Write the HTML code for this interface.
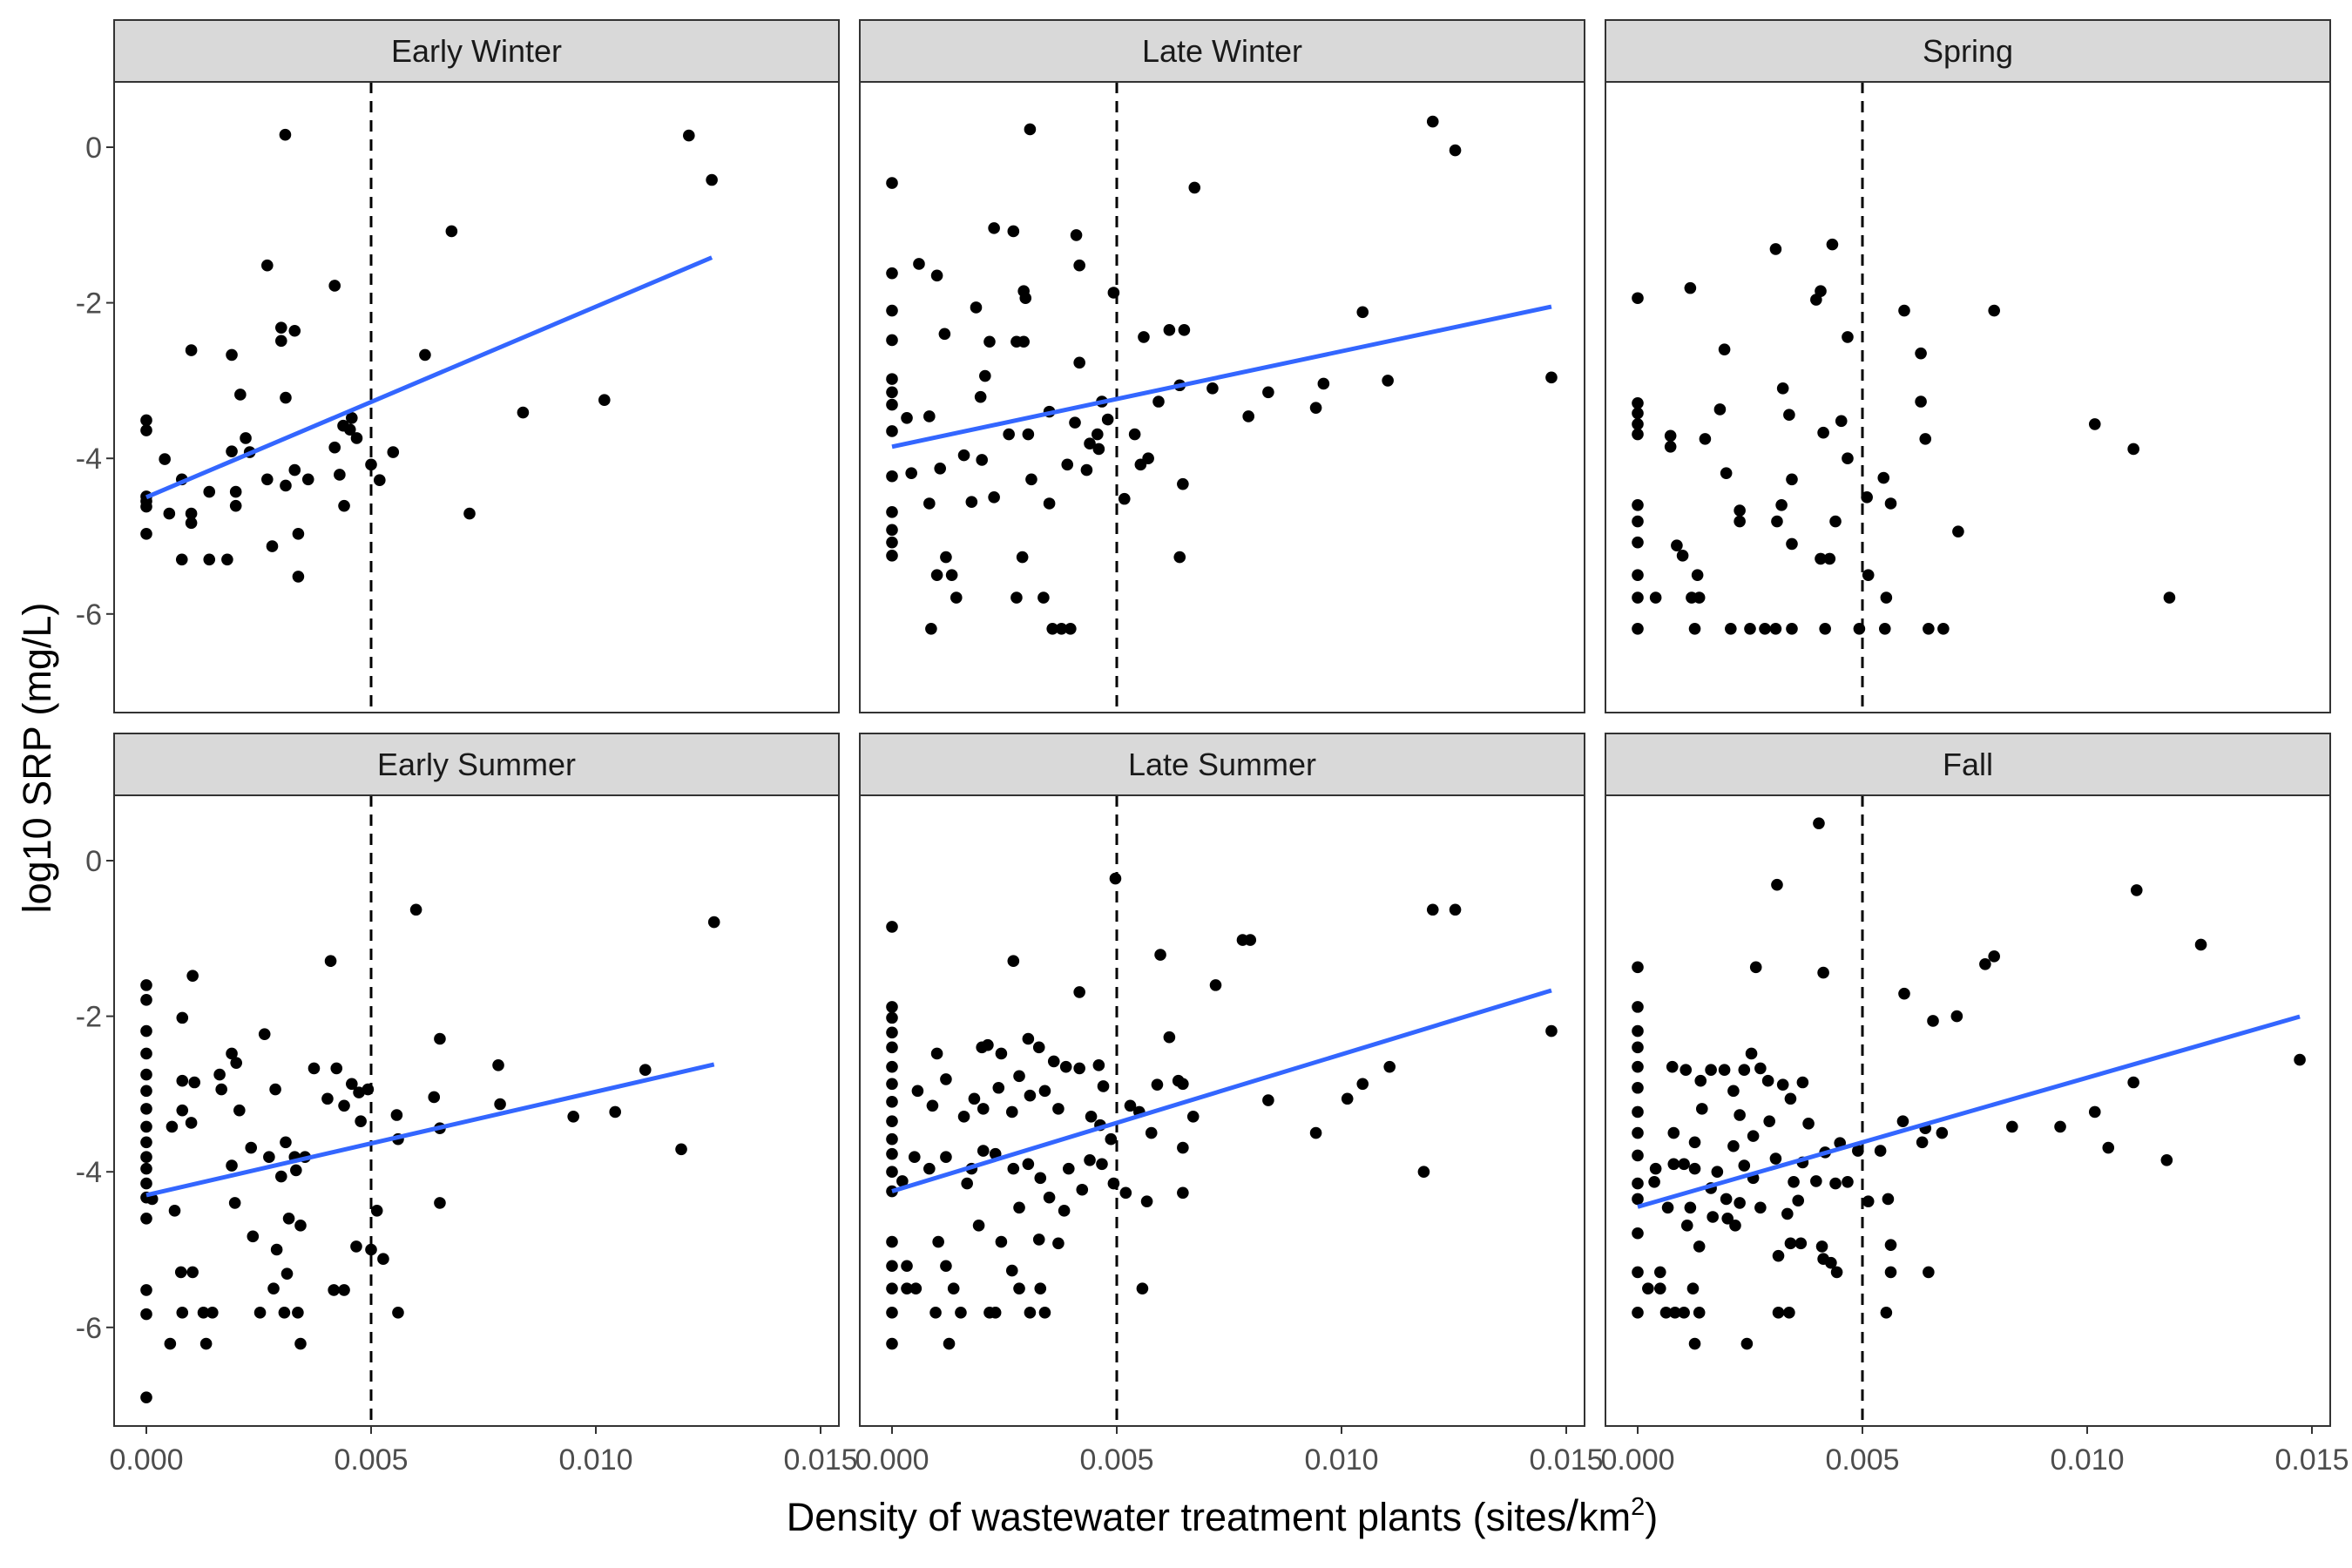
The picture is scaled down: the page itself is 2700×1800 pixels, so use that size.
<!DOCTYPE html>
<html><head><meta charset="utf-8"><style>
html,body{margin:0;padding:0;background:#fff;}
svg{display:block;font-family:"Liberation Sans",Arial,sans-serif;}
</style></head><body>
<svg id="chart" width="2700" height="1800" viewBox="0 0 2700 1800" xmlns="http://www.w3.org/2000/svg">
<rect width="2700" height="1800" fill="#fff"/>
<text x="0" y="0" transform="translate(58,870) rotate(-90)" text-anchor="middle" font-size="45" fill="#000">log10 SRP (mg/L)</text>
<text x="1403" y="1757" text-anchor="middle" font-size="45" fill="#000">Density of wastewater treatment plants (sites<tspan font-size="50">/</tspan>km<tspan dy="-18" font-size="29">2</tspan><tspan dy="18">)</tspan></text>
</svg>
<script>
const panelNames = ["Early Winter","Late Winter","Spring","Early Summer","Late Summer","Fall"];
const fitIntercept = [-4.5,-3.85,null,-4.3,-4.25,-4.45];
const fitSlope = [0.245,0.1227,null,0.133,0.176,0.166];
const xTicks = [0,0.005,0.010,0.015];
const xTickLabels = ["0.000","0.005","0.010","0.015"];
const yTicks = [0,-2,-4,-6];
const yTickLabels = ["0","-2","-4","-6"];
const threshold = 0.005;
const ewX=[3.09,12.07,12.58,6.79,2.69,4.19,3.0,3.30,3.0,1.0,1.90,6.20,2.09,3.10,10.19,8.38,0,0,4.57,4.38,4.53,4.68,2.21,1.90,2.30,4.19,5.49,0.41,5.0,3.30,0.79,2.69,3.60,5.19,4.30,3.10,1.40,1.99,0,0,0,1.99,4.40,0.51,1.0,7.19,1.0,0,3.38,2.80,0.79,1.40,1.80,3.38];
const ewY=[0.16,0.15,-0.42,-1.08,-1.52,-1.78,-2.32,-2.36,-2.49,-2.61,-2.67,-2.67,-3.18,-3.22,-3.25,-3.41,-3.51,-3.64,-3.48,-3.58,-3.63,-3.74,-3.74,-3.91,-3.92,-3.86,-3.92,-4.01,-4.08,-4.15,-4.27,-4.27,-4.27,-4.28,-4.21,-4.35,-4.43,-4.43,-4.49,-4.55,-4.62,-4.61,-4.61,-4.71,-4.71,-4.71,-4.83,-4.97,-4.97,-5.13,-5.30,-5.30,-5.30,-5.52];
const lwX=[3.07,12.03,12.53,6.73,0,2.27,2.7,4.1,0.6,4.17,0,1.0,2.93,2.97,4.93,1.87,10.47,0,1.17,5.6,6.17,6.5,0,2.17,2.77,2.93,4.17,2.07,0,9.6,11.03,14.67,6.4,7.13,0,1.97,8.37,4.67,5.93,0,9.43,7.93,0.33,0.83,0,2.6,3.03,4.57,5.4,4.07,3.5,4.8,4.4,4.6,1.6,2.0,3.9,5.53,5.7,0,0.43,1.07,4.33,3.1,6.47,2.27,1.77,5.17,0,0.83,3.5,0,0,0,1.2,2.9,6.4,1.0,1.33,1.43,2.77,3.37,0.87,3.57,3.77,3.97];
const lwY=[0.23,0.33,-0.04,-0.52,-0.46,-1.04,-1.08,-1.13,-1.5,-1.52,-1.62,-1.65,-1.85,-1.94,-1.87,-2.06,-2.12,-2.1,-2.4,-2.44,-2.35,-2.35,-2.48,-2.5,-2.5,-2.5,-2.77,-2.94,-2.98,-3.04,-3.0,-2.96,-3.06,-3.1,-3.15,-3.21,-3.15,-3.27,-3.27,-3.31,-3.35,-3.46,-3.48,-3.46,-3.65,-3.69,-3.69,-3.69,-3.69,-3.54,-3.4,-3.5,-3.81,-3.88,-3.96,-4.02,-4.08,-4.08,-4.0,-4.23,-4.19,-4.13,-4.15,-4.27,-4.33,-4.5,-4.56,-4.52,-4.69,-4.58,-4.58,-4.92,-5.08,-5.25,-5.27,-5.27,-5.27,-5.5,-5.5,-5.79,-5.79,-5.79,-6.19,-6.19,-6.19,-6.19];
const spX=[3.07,4.33,0,1.17,4.07,3.97,5.93,7.93,4.67,1.93,6.3,3.23,0,6.3,0,1.83,3.37,0,10.17,4.53,0,0.73,0.73,1.5,4.13,6.4,11.03,4.67,3.43,1.97,5.47,5.1,0,3.2,2.27,5.63,0,2.27,3.1,4.4,7.13,0,0.87,3.43,1.0,4.07,4.27,0,1.33,5.13,0,0.4,1.2,1.37,5.53,11.83,0,1.27,2.07,2.5,2.83,3.07,3.43,4.17,4.93,5.5,6.47,6.8];
const spY=[-1.31,-1.25,-1.94,-1.81,-1.85,-1.96,-2.1,-2.1,-2.44,-2.6,-2.65,-3.1,-3.29,-3.27,-3.42,-3.37,-3.44,-3.56,-3.56,-3.52,-3.69,-3.71,-3.85,-3.75,-3.67,-3.75,-3.88,-4.0,-4.27,-4.19,-4.25,-4.5,-4.6,-4.6,-4.67,-4.58,-4.81,-4.81,-4.81,-4.81,-4.94,-5.08,-5.12,-5.1,-5.25,-5.29,-5.29,-5.5,-5.5,-5.5,-5.79,-5.79,-5.79,-5.79,-5.79,-5.79,-6.19,-6.19,-6.19,-6.19,-6.19,-6.19,-6.19,-6.19,-6.19,-6.19,-6.19,-6.19];
const esX=[12.63,6.0,4.1,0,0,1.03,0,0,0.8,2.63,6.53,1.9,2.0,0,0,0,0,0,0,0,0,0,0,0.13,0.8,1.63,1.67,1.07,0.57,0.8,1.0,2.07,2.33,2.87,3.1,3.3,3.53,3.73,4.23,4.03,4.4,4.57,4.73,4.93,4.77,5.57,5.6,6.53,6.4,7.83,7.87,10.43,11.1,9.5,11.9,1.9,2.73,3.33,3.0,0.63,1.97,2.37,3.17,3.43,5.13,6.53,4.67,5.0,5.27,2.9,2.83,3.13,0.77,1.03,0,0,0.8,1.27,1.47,2.53,3.07,3.37,4.17,4.4,5.6,0.53,1.33,3.43,0];
const esY=[-0.79,-0.63,-1.29,-1.6,-1.79,-1.48,-2.19,-2.48,-2.02,-2.23,-2.29,-2.48,-2.6,-2.75,-2.96,-3.19,-3.42,-3.62,-3.81,-3.96,-4.15,-4.33,-4.6,-4.35,-2.83,-2.75,-2.94,-2.85,-3.42,-3.21,-3.37,-3.21,-3.69,-2.94,-3.62,-3.81,-3.81,-2.67,-2.67,-3.06,-3.15,-2.87,-2.98,-2.94,-3.35,-3.27,-3.58,-3.44,-3.04,-2.63,-3.13,-3.23,-2.69,-3.29,-3.71,-3.92,-3.81,-3.98,-4.06,-4.5,-4.4,-4.83,-4.6,-4.69,-4.5,-4.4,-4.96,-5.0,-5.12,-5.0,-5.5,-5.31,-5.29,-5.29,-5.52,-5.83,-5.81,-5.81,-5.81,-5.81,-5.81,-5.81,-5.52,-5.52,-5.81,-6.21,-6.21,-6.21,-6.9];
const lsX=[4.97,12.03,12.53,7.8,7.97,5.97,0,2.7,7.2,4.17,14.67,0,0,0,0,6.17,1.0,2.0,2.13,2.43,3.03,3.27,3.6,3.87,4.17,4.6,11.07,10.47,10.13,9.43,8.37,0,0,0,0,0,0,0,0,0.57,0.9,1.2,1.6,1.83,2.03,2.37,2.67,2.83,3.07,3.4,3.7,4.7,4.43,4.63,4.87,5.3,5.5,5.9,6.37,6.47,6.7,5.77,6.47,11.83,0.5,0.83,1.2,1.77,2.03,2.3,2.7,3.03,3.3,3.93,4.4,4.67,0.23,1.67,3.5,4.23,4.93,5.2,5.67,6.47,1.93,2.83,3.83,0,1.03,2.43,3.27,0,0.33,1.2,2.67,3.7,0,0.33,0.53,1.37,2.83,3.3,5.57,0,0.97,1.53,2.17,2.3,3.07,3.4,0,1.27];
const lsY=[-0.23,-0.63,-0.63,-1.02,-1.02,-1.21,-0.85,-1.29,-1.6,-1.69,-2.19,-1.88,-2.02,-2.21,-2.4,-2.27,-2.48,-2.4,-2.37,-2.48,-2.29,-2.4,-2.58,-2.65,-2.67,-2.63,-2.65,-2.87,-3.06,-3.5,-3.08,-2.65,-2.87,-3.1,-3.35,-3.58,-3.77,-4.0,-4.25,-2.96,-3.15,-2.81,-3.29,-3.06,-3.19,-2.92,-3.23,-2.77,-3.02,-2.96,-3.19,-2.9,-3.29,-3.4,-3.58,-3.15,-3.23,-2.88,-2.83,-2.87,-3.29,-3.5,-3.69,-4.0,-3.81,-3.96,-3.81,-3.96,-3.73,-3.77,-3.96,-3.9,-4.08,-3.96,-3.85,-3.9,-4.12,-4.15,-4.33,-4.23,-4.15,-4.27,-4.38,-4.27,-4.69,-4.46,-4.5,-4.9,-4.9,-4.9,-4.87,-5.21,-5.21,-5.21,-5.27,-4.92,-5.5,-5.5,-5.5,-5.5,-5.5,-5.5,-5.5,-5.81,-5.81,-5.81,-5.81,-5.81,-5.81,-5.81,-6.21,-6.21];
const faX=[4.03,3.1,11.1,12.53,4.13,2.63,7.93,7.73,0,5.93,0,0,6.57,7.1,0,0.77,1.07,1.63,1.93,2.37,2.53,2.73,14.73,0,0,0,0,0,0,0,0,0,0,1.4,1.43,0.8,1.27,2.13,2.27,2.9,3.23,3.67,3.4,3.8,2.93,2.57,2.13,3.07,3.67,4.17,4.5,4.9,5.4,5.9,6.33,6.77,8.33,9.4,10.17,10.47,11.03,11.77,6.4,0.4,0.8,1.03,1.27,1.77,2.37,2.57,0.37,1.63,1.97,2.27,3.47,3.97,4.4,4.67,5.13,5.57,0.67,1.17,2.0,2.17,2.73,1.1,1.67,3.33,3.57,3.4,3.63,4.1,5.63,3.13,4.13,4.3,4.43,6.47,1.37,0.5,0.23,0.5,1.23,5.63,0.63,0.83,1.03,1.37,3.13,3.37,5.53,1.27,2.43];
const faY=[0.48,-0.31,-0.38,-1.08,-1.44,-1.37,-1.23,-1.33,-1.37,-1.71,-1.88,-2.19,-2.06,-2.0,-2.4,-2.65,-2.69,-2.69,-2.69,-2.69,-2.48,-2.67,-2.56,-2.65,-2.92,-3.23,-3.5,-3.79,-4.15,-4.35,-4.79,-5.29,-5.81,-2.83,-3.19,-3.5,-3.62,-2.96,-3.27,-2.83,-2.88,-2.85,-3.06,-3.38,-3.35,-3.54,-3.67,-3.83,-3.88,-3.75,-3.63,-3.73,-3.73,-3.35,-3.62,-3.5,-3.42,-3.42,-3.23,-3.69,-2.85,-3.85,-3.44,-3.96,-3.9,-3.9,-3.96,-4.0,-3.92,-4.08,-4.13,-4.21,-4.35,-4.4,-4.13,-4.12,-4.15,-4.13,-4.38,-4.35,-4.46,-4.46,-4.6,-4.69,-4.46,-4.69,-4.58,-4.54,-4.37,-4.92,-4.92,-4.96,-4.94,-5.08,-5.12,-5.17,-5.29,-5.29,-4.96,-5.29,-5.5,-5.5,-5.5,-5.29,-5.81,-5.81,-5.81,-5.81,-5.81,-5.81,-5.81,-6.21,-6.21];
const seriesX=[ewX,lwX,spX,esX,lsX,faX];
const seriesY=[ewY,lwY,spY,esY,lsY,faY];

const NS="http://www.w3.org/2000/svg";
const svg=document.getElementById('chart');
function mk(tag,attrs,parent){const e=document.createElementNS(NS,tag);for(const k in attrs)e.setAttribute(k,attrs[k]);(parent||svg).appendChild(e);return e;}
const colLeft=[131,987,1843], rowTop=[23,842];
const PW=832, STRIP=71, PH=724;
for(let p=0;p<6;p++){
  const c=p%3, r=Math.floor(p/3);
  const L=colLeft[c], T=rowTop[r]+STRIP;
  const xs=v=>L+37+v*51600;
  const ys=v=>T+75-v*89.3;
  const g=mk('g',{});
  
  
  const strip=mk('rect',{x:L,y:rowTop[r],width:PW,height:STRIP,fill:'#d9d9d9',stroke:'#333',"stroke-width":2},g);
  
  
  const st=mk('text',{x:L+PW/2,y:rowTop[r]+48,"text-anchor":"middle","font-size":"36",fill:"#1a1a1a"},g);
  st.textContent=panelNames[p];
  
  
  const dl=mk('line',{x1:xs(threshold),x2:xs(threshold),y1:T,y2:T+PH,stroke:'#000',"stroke-width":3,"stroke-dasharray":"13 9"},g);
  
  
  const X=seriesX[p], Y=seriesY[p];
  for(let i=0;i<X.length;i++){
    const pt=mk('circle',{cx:xs(X[i]/1000),cy:ys(Y[i]),r:6.8,fill:'#000'},g);
    
    
  }
  if(fitIntercept[p]!==null){
    const a=fitIntercept[p], b=fitSlope[p];
    const x0=Math.min(...X),x1=Math.max(...X);
    const fl=mk('line',{x1:xs(x0/1000),y1:ys(a+b*x0),x2:xs(x1/1000),y2:ys(a+b*x1),stroke:'#3366FF',"stroke-width":5},g);
    
    
  }
  const fr=mk('rect',{x:L,y:T,width:PW,height:PH,fill:'none',stroke:'#333',"stroke-width":2},g);
  
  
  if(c===0){
    yTicks.forEach((v,i)=>{
      const tk=mk('line',{x1:L-9,x2:L,y1:ys(v),y2:ys(v),stroke:'#333',"stroke-width":2},g);
      
      
      const tl=mk('text',{x:L-14,y:ys(v)+12,"text-anchor":"end","font-size":"34",fill:"#4d4d4d"},g);
      tl.textContent=yTickLabels[i];
      
      
    });
  }
  if(r===1){
    xTicks.forEach((v,i)=>{
      const tk=mk('line',{x1:xs(v),x2:xs(v),y1:T+PH,y2:T+PH+9,stroke:'#333',"stroke-width":2},g);
      
      
      const tl=mk('text',{x:xs(v),y:T+PH+50,"text-anchor":"middle","font-size":"34",fill:"#4d4d4d"},g);
      tl.textContent=xTickLabels[i];
      
      
    });
  }
}
</script>
</body></html>
